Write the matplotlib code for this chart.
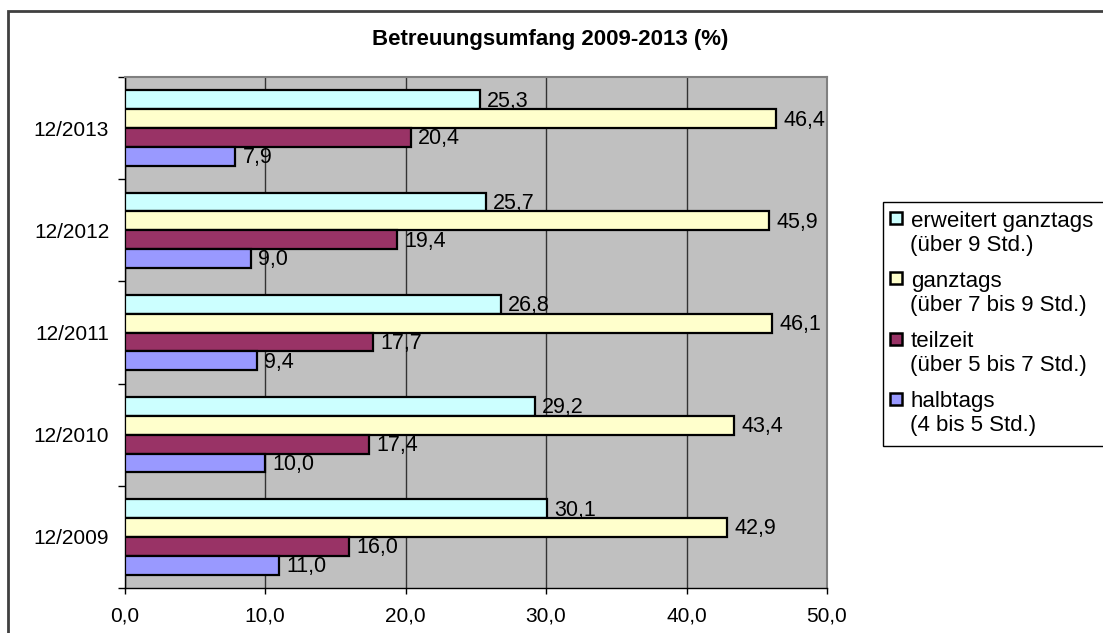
import matplotlib
matplotlib.use('Agg')
import matplotlib.pyplot as plt
from matplotlib.patches import Rectangle

plt.rcParams['font.family'] = ['Liberation Sans', 'DejaVu Sans']

# ---------------------------------------------------------------- data
years = ['12/2009', '12/2010', '12/2011', '12/2012', '12/2013']
erweitert = [30.1, 29.2, 26.8, 25.7, 25.3]
ganztags = [42.9, 43.4, 46.1, 45.9, 46.4]
teilzeit = [16.0, 17.4, 17.7, 19.4, 20.4]
halbtags = [11.0, 10.0, 9.4, 9.0, 7.9]

series_names = ['erweitert ganztags', 'ganztags', 'teilzeit', 'halbtags']
series_sub = ['(über 9 Std.)', '(über 7 bis 9 Std.)', '(über 5 bis 7 Std.)',
              '(4 bis 5 Std.)']
series_vals = [erweitert, ganztags, teilzeit, halbtags]
colors = ['#CCFFFF', '#FFFFCC', '#993366', '#9999FF']

W, H = 1103, 633
fig = plt.figure(figsize=(W / 100, H / 100), dpi=100)
fig.patch.set_facecolor('white')


def fx(x):
    return x / W


def fy(y):
    return 1 - y / H


ax = fig.add_axes([fx(124.5), fy(588), fx(827) - fx(124.5), fy(77) - fy(588)])
ax.set_facecolor('#C0C0C0')

bh = 0.184
offsets = [1.5 * bh, 0.5 * bh, -0.5 * bh, -1.5 * bh]
for vals, off, col in zip(series_vals, offsets, colors):
    for i, v in enumerate(vals):
        ax.barh(i + off, v, height=bh, color=col, edgecolor='black',
                linewidth=1.6, zorder=3)
        ax.annotate(f'{v:.1f}'.replace('.', ','), (v, i + off),
                    xytext=(5, -1), textcoords='offset points',
                    ha='left', va='center', fontsize=15.5, color='black',
                    zorder=4)

ax.set_xlim(0, 50)
ax.set_ylim(-0.5, 4.5)
ax.set_xticks(range(0, 51, 10))
ax.set_xticklabels([f'{t},0' for t in range(0, 51, 10)], fontsize=15)
ax.tick_params(axis='x', length=4, width=1, pad=9, color='black')
ax.set_yticks([i - 0.5 for i in range(6)])
ax.set_yticklabels([])
ax.set_yticks(range(5), minor=True)
ax.set_yticklabels(years, minor=True, fontsize=15)
ax.tick_params(axis='y', which='major', length=5, width=1, color='black')
ax.tick_params(axis='y', which='minor', length=0, pad=11)
ax.xaxis.grid(True, color='#333333', linewidth=1, zorder=1)
ax.set_axisbelow(True)
for side in ['left', 'bottom']:
    ax.spines[side].set_color('black')
    ax.spines[side].set_linewidth(1)
for side in ['top', 'right']:
    ax.spines[side].set_color('#808080')
    ax.spines[side].set_linewidth(1.5)

# title
fig.text(fx(550), fy(40), 'Betreuungsumfang 2009-2013 (%)', ha='center',
         va='center', fontsize=16, fontweight='bold')

# outer chart border (runs off right and bottom)
fig.add_artist(Rectangle((fx(8), fy(700)), fx(1115) - fx(8), fy(11) - fy(700),
                         transform=fig.transFigure, facecolor='none',
                         edgecolor='#404040', linewidth=2))

# legend box (runs off the right edge)
fig.add_artist(Rectangle((fx(883), fy(446)), fx(1115) - fx(883),
                         fy(202) - fy(446), transform=fig.transFigure,
                         facecolor='white', edgecolor='black', linewidth=1))
for k, (name, sub, col) in enumerate(zip(series_names, series_sub, colors)):
    y0 = 218 + 60.3 * k
    fig.add_artist(Rectangle((fx(890), fy(y0 + 6)), fx(902) - fx(890),
                             fy(y0 - 6) - fy(y0 + 6),
                             transform=fig.transFigure, facecolor=col,
                             edgecolor='black', linewidth=1.8))
    fig.text(fx(911), fy(y0 + 3), name, ha='left', va='center', fontsize=16)
    fig.text(fx(910), fy(y0 + 27), sub, ha='left', va='center', fontsize=16)

fig.savefig('out.png', dpi=100, facecolor='white')
